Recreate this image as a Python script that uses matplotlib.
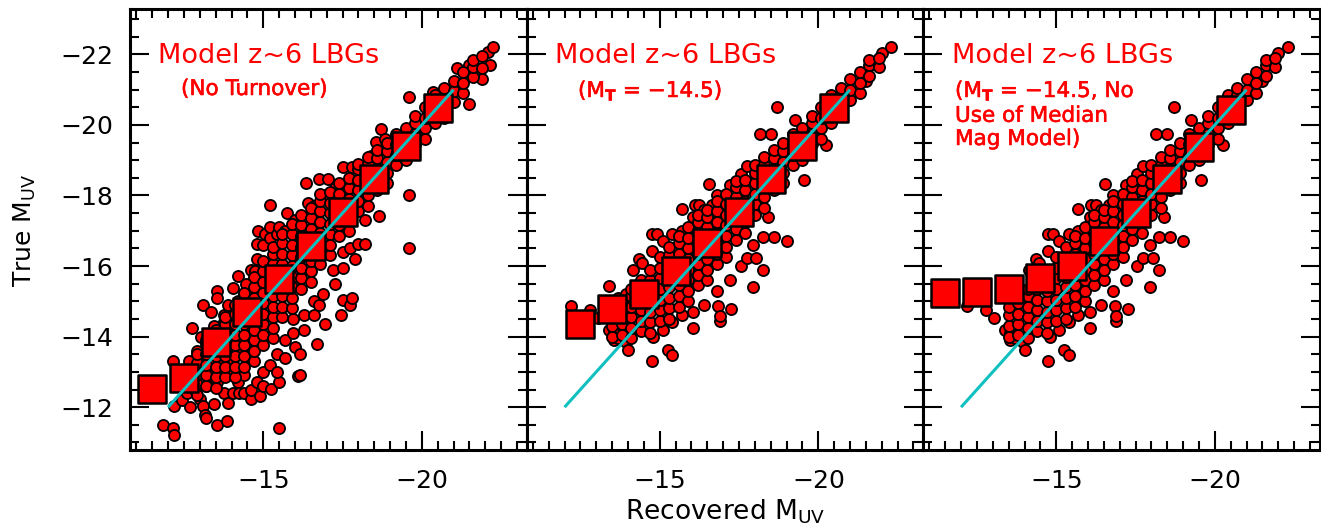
import matplotlib
matplotlib.use("Agg")
import matplotlib.pyplot as plt
import matplotlib.patheffects as pe
from matplotlib.ticker import MultipleLocator, FixedLocator

# ---------------- data ----------------
# binned medians (big squares)
p1_bin_x = [-11.5, -12.5, -13.5, -14.5, -15.5, -16.5, -17.5, -18.5, -19.5, -20.5]
p1_bin_y = [-12.52, -12.83, -13.84, -14.71, -15.64, -16.57, -17.52, -18.46, -19.40, -20.49]

p2_bin_x = [-12.5, -13.5, -14.5, -15.5, -16.5, -17.5, -18.5, -19.5, -20.5]
p2_bin_y = [-14.35, -14.79, -15.22, -15.87, -16.65, -17.53, -18.46, -19.40, -20.49]

p3_bin_x = [-11.5, -12.5, -13.5, -14.5, -15.5, -16.5, -17.5, -18.5, -19.5, -20.5]
p3_bin_y = [-15.23, -15.27, -15.36, -15.66, -16.01, -16.70, -17.50, -18.46, -19.37, -20.43]

# one-to-one reference line
line_x = [-12.0, -21.0]
line_y = [-12.0, -21.0]

# individual model galaxies, panel 1 (no turnover): (recovered, true) -- scattered ones
p1_points = [
    (-11.85,-11.50),(-12.15,-11.41),(-12.2,-12.03),(-12.15,-13.32),(-12.2,-11.20),
    (-12.4,-12.6),(-12.45,-12.2),(-12.65,-13.32),(-12.6,-12.4),(-12.7,-12.0),
    (-12.75,-14.23),(-12.9,-12.9),(-12.9,-13.6),(-12.85,-12.5),
    (-13.0,-12.22),(-13.0,-13.2),(-13.05,-14.0),(-13.1,-12.03),(-13.1,-14.90),(-13.1,-13.5),
    (-13.15,-11.79),(-13.2,-11.69),(-13.2,-12.6),(-13.2,-13.9),
    (-13.35,-14.71),(-13.35,-12.9),(-13.3,-13.3),(-13.45,-12.08),(-13.45,-14.3),
    (-13.55,-11.50),(-13.55,-15.28),(-13.55,-15.09),(-13.55,-12.7),(-13.6,-13.0),(-13.6,-13.6),(-13.6,-14.0),
    (-13.75,-14.61),(-13.75,-12.41),(-13.75,-13.3),(-13.75,-12.9),(-13.75,-14.4),(-13.8,-14.0),
    (-13.85,-11.60),(-13.9,-12.12),(-13.9,-13.1),(-13.9,-13.7),(-13.9,-14.9),
    (-14.05,-15.38),(-14.05,-13.37),(-14.05,-12.4),(-14.05,-12.9),(-14.05,-14.2),(-14.05,-14.6),(-14.05,-13.7),
    (-14.2,-15.71),(-14.2,-12.7),(-14.2,-13.0),(-14.2,-13.5),(-14.2,-14.0),(-14.25,-14.4),(-14.2,-15.0),(-14.25,-12.4),
    (-14.4,-15.19),(-14.4,-12.41),(-14.4,-12.9),(-14.45,-15.5),
    (-14.6,-12.22),(-14.6,-12.5),(-14.6,-15.9),
    (-14.8,-16.62),(-14.75,-15.85),(-14.85,-17.0),(-14.8,-15.47),(-14.9,-12.32),(-14.8,-12.7),(-14.8,-16.2),
    (-15.0,-12.6),(-15.0,-13.0),(-15.05,-16.9),(-15.0,-16.6),
    (-15.2,-17.72),(-15.2,-17.12),(-15.25,-12.51),(-15.2,-13.2),(-15.2,-16.8),
    (-15.5,-12.70),(-15.5,-11.41),(-15.45,-13.0),(-15.45,-13.5),(-15.45,-16.9),(-15.5,-17.1),
    (-15.75,-17.51),(-15.7,-13.4),(-15.7,-13.9),(-15.7,-17.0),
    (-16.0,-13.70),(-16.1,-12.89),(-15.95,-14.1),(-15.95,-14.5),(-16.0,-17.3),(-16.15,-12.91),(-16.15,-13.5),
    (-16.35,-18.34),(-16.3,-14.2),(-16.3,-14.6),(-16.4,-17.8),
    (-16.6,-14.6),(-16.6,-15.0),(-16.6,-17.7),
    (-16.75,-18.48),(-16.7,-13.80),(-16.75,-14.9),
    (-16.95,-14.37),(-16.9,-15.2),(-16.95,-18.0),(-17.05,-18.48),
    (-17.25,-15.5),(-17.2,-15.9),(-17.25,-18.2),
    (-17.5,-18.82),(-17.5,-15.95),(-17.5,-15.04),(-17.45,-14.61),(-17.5,-16.4),
    (-17.75,-14.90),(-17.8,-15.09),(-17.75,-16.5),(-17.9,-16.19),(-17.8,-18.82),
    (-18.0,-16.62),(-18.2,-16.62),(-18.2,-17.3),
    (-18.4,-19.11),(-18.55,-19.51),(-18.65,-17.42),(-18.7,-19.89),(-18.85,-19.60),
    (-19.6,-20.78),(-19.6,-18.00),(-19.6,-16.50),
    (-20.35,-20.92),(-21.1,-21.61),(-21.5,-20.59),(-21.5,-21.69),
    (-21.9,-21.31),(-22.1,-22.07),(-22.15,-21.69),(-22.25,-22.21),
]

# panel 1 dense core: columns of (recovered, [true values])
p1_core = [
    (-12.9, [-12.35, -12.65, -12.95, -13.25, -13.5]),
    (-13.2, [-12.6, -12.9, -13.2, -13.5, -13.8]),
    (-13.5, [-12.55, -12.85, -13.15, -13.45, -13.75, -14.05, -14.2]),
    (-13.8, [-12.85, -13.15, -13.45, -13.75, -14.05, -14.35, -14.55]),
    (-14.1, [-12.85, -13.15, -13.45, -13.75, -14.05, -14.35, -14.65, -14.9]),
    (-14.4, [-13.15, -13.45, -13.75, -14.05, -14.35, -14.65, -14.95, -15.25]),
    (-14.7, [-13.3, -13.6, -13.9, -14.2, -14.5, -14.8, -15.1, -15.4, -15.7]),
    (-15.0, [-13.75, -14.05, -14.35, -14.65, -14.95, -15.25, -15.55, -15.85, -16.15]),
    (-15.3, [-13.95, -14.25, -14.55, -14.85, -15.15, -15.45, -15.75, -16.05, -16.35, -16.55]),
    (-15.6, [-14.55, -14.85, -15.15, -15.45, -15.75, -16.05, -16.35, -16.65, -16.9]),
    (-15.9, [-14.8, -15.1, -15.4, -15.7, -16.0, -16.3, -16.6, -16.9, -17.2]),
    (-16.2, [-15.35, -15.65, -15.95, -16.25, -16.55, -16.85, -17.15, -17.45]),
    (-16.5, [-15.55, -15.85, -16.15, -16.45, -16.75, -17.05, -17.35, -17.65]),
    (-16.8, [-16.05, -16.35, -16.65, -16.95, -17.25, -17.55, -17.85, -18.05]),
    (-17.1, [-16.3, -16.6, -16.9, -17.2, -17.5, -17.8, -18.1]),
    (-17.4, [-16.85, -17.15, -17.45, -17.75, -18.05, -18.35]),
    (-17.7, [-17.0, -17.3, -17.6, -17.9, -18.2, -18.5]),
    (-18.0, [-17.55, -17.85, -18.15, -18.45, -18.75, -18.9]),
    (-18.3, [-17.7, -18.0, -18.3, -18.6, -18.9, -19.1]),
    (-18.6, [-18.15, -18.45, -18.75, -19.05, -19.3]),
    (-18.9, [-18.35, -18.65, -18.95, -19.25, -19.5]),
    (-19.2, [-18.85, -19.15, -19.45, -19.75]),
    (-19.5, [-19.0, -19.3, -19.6, -19.9]),
    (-19.8, [-19.45, -19.75, -20.05, -20.25]),
    (-20.1, [-19.6, -19.9, -20.2, -20.5]),
    (-20.4, [-20.05, -20.35, -20.65, -20.85]),
    (-20.7, [-20.2, -20.5, -20.8, -21.05]),
    (-21.0, [-20.65, -20.95, -21.25]),
    (-21.3, [-20.9, -21.2, -21.5]),
    (-21.6, [-21.35, -21.65, -21.85]),
    (-21.9, [-21.6, -21.95]),
]

# panels 2 and 3 (M_T = -14.5): scattered ones
p23_points = [
    (-12.2,-14.86),(-12.8,-14.76),(-13.05,-14.52),(-13.4,-15.44),(-13.4,-14.2),
    (-13.55,-14.09),(-13.55,-13.9),(-13.7,-13.95),(-13.7,-15.1),
    (-13.95,-13.85),(-13.95,-15.2),(-14.15,-15.9),(-14.0,-13.61),
    (-14.35,-16.2),(-14.45,-16.1),
    (-14.75,-13.32),(-14.75,-16.92),(-14.75,-16.44),(-14.8,-14.0),
    (-14.9,-16.92),(-15.1,-14.2),(-15.1,-16.7),(-15.25,-13.61),
    (-15.4,-13.48),(-15.4,-14.4),(-15.4,-16.9),
    (-15.7,-17.62),(-15.7,-14.6),(-15.7,-17.0),
    (-16.05,-14.24),(-16.05,-14.7),(-16.05,-17.4),
    (-16.1,-17.74),(-16.25,-17.74),(-16.4,-14.9),(-16.4,-17.6),
    (-16.55,-18.33),(-16.65,-17.74),(-16.85,-14.88),(-16.9,-14.43),(-16.9,-14.57),
    (-16.8,-15.3),(-16.8,-18.0),
    (-17.25,-14.78),(-17.2,-15.6),(-17.2,-18.3),
    (-17.55,-18.6),(-17.55,-16.0),(-17.75,-18.84),(-17.75,-16.23),
    (-17.95,-15.42),(-17.95,-16.6),
    (-18.05,-16.22),(-18.15,-19.75),
    (-18.25,-15.90),(-18.25,-16.83),(-18.4,-17.40),(-18.5,-19.75),
    (-18.6,-16.83),(-18.7,-20.51),
    (-19.0,-16.71),(-19.25,-20.14),(-19.55,-18.45),(-19.85,-20.14),
    (-20.25,-19.42),(-21.5,-21.24),(-21.75,-21.72),
    (-22.0,-22.03),(-22.3,-22.22),
]

# panels 2 and 3 dense core
p23_core = [
    (-13.5, [-14.0, -14.3, -14.6, -14.85]),
    (-13.8, [-14.05, -14.35, -14.65, -14.95]),
    (-14.1, [-13.95, -14.25, -14.55, -14.85, -15.15, -15.35]),
    (-14.4, [-14.15, -14.45, -14.75, -15.05, -15.35, -15.6]),
    (-14.7, [-14.1, -14.4, -14.7, -15.0, -15.3, -15.6, -15.9]),
    (-15.0, [-14.45, -14.75, -15.05, -15.35, -15.65, -15.95, -16.25]),
    (-15.3, [-14.5, -14.8, -15.1, -15.4, -15.7, -16.0, -16.3, -16.55]),
    (-15.6, [-14.85, -15.15, -15.45, -15.75, -16.05, -16.35, -16.65, -16.85]),
    (-15.9, [-15.0, -15.3, -15.6, -15.9, -16.2, -16.5, -16.8, -17.1]),
    (-16.2, [-15.45, -15.75, -16.05, -16.35, -16.65, -16.95, -17.25, -17.45]),
    (-16.5, [-15.6, -15.9, -16.2, -16.5, -16.8, -17.1, -17.4, -17.6]),
    (-16.8, [-16.05, -16.35, -16.65, -16.95, -17.25, -17.55, -17.85]),
    (-17.1, [-16.25, -16.55, -16.85, -17.15, -17.45, -17.75, -18.05]),
    (-17.4, [-16.75, -17.05, -17.35, -17.65, -17.95, -18.25, -18.4]),
    (-17.7, [-16.95, -17.25, -17.55, -17.85, -18.15, -18.45]),
    (-18.0, [-17.45, -17.75, -18.05, -18.35, -18.65, -18.85]),
    (-18.3, [-17.65, -17.95, -18.25, -18.55, -18.85, -19.1]),
    (-18.6, [-18.15, -18.45, -18.75, -19.05, -19.3]),
    (-18.9, [-18.35, -18.65, -18.95, -19.25, -19.5]),
    (-19.2, [-18.85, -19.15, -19.45, -19.75]),
    (-19.5, [-19.0, -19.3, -19.6, -19.9]),
    (-19.8, [-19.45, -19.75, -20.05, -20.25]),
    (-20.1, [-19.6, -19.9, -20.2, -20.5]),
    (-20.4, [-20.05, -20.35, -20.65, -20.85]),
    (-20.7, [-20.25, -20.55, -20.85, -21.05]),
    (-21.0, [-20.7, -21.0, -21.3]),
    (-21.3, [-20.9, -21.2, -21.5]),
    (-21.6, [-21.4, -21.7, -21.85]),
    (-21.9, [-21.65, -21.9]),
]

panel_titles = ["Model z~6 LBGs", "Model z~6 LBGs", "Model z~6 LBGs"]
panel_notes = ["(No Turnover)",
               "(M$_\\mathbf{T}$ = \u221214.5)",
               "(M$_\\mathbf{T}$ = \u221214.5, No\nUse of Median\nMag Model)"]
x_ticks = [-15, -20]
y_ticks = [-22, -20, -18, -16, -14, -12]
x_label = "Recovered M$_{\\mathrm{UV}}$"
y_label = "True M$_{\\mathrm{UV}}$"

# ---------------- figure ----------------
plt.rcParams['font.family'] = ['DejaVu Sans']
plt.rcParams['mathtext.fontset'] = 'dejavusans'
plt.rcParams['axes.unicode_minus'] = True

fig = plt.figure(figsize=(13.21, 5.29), dpi=100)
L, B, W, H = 130/1321, 1 - 449.5/529, 396.5/1321, 441/529

panels = [
    (p1_points, p1_core, p1_bin_x, p1_bin_y),
    (p23_points, p23_core, p2_bin_x, p2_bin_y),
    (p23_points, p23_core, p3_bin_x, p3_bin_y),
]
note_pos = [(181, 90), (578, 90), (955, 90)]
title_pos = [(158, 56), (555, 56), (952, 56)]

red = '#FF0000'
cyan = '#10C0C0'

for i, (pts, core, bx, by) in enumerate(panels):
    ax = fig.add_axes([L + i*W, B, W, H])
    xs = [p[0] for p in pts]
    ys = [p[1] for p in pts]
    for cx, cys in core:
        for cy in cys:
            xs.append(cx)
            ys.append(cy)
    ax.scatter(xs, ys, s=64, c=red, edgecolors='black', linewidths=1.3, zorder=2)
    ax.scatter(bx, by, s=400, marker='s', c=red, edgecolors='black', linewidths=1.8, zorder=3)
    ax.plot(line_x, line_y, color=cyan, lw=2.2, zorder=4, solid_capstyle='butt')
    ax.set_xlim(-10.8, -23.3)
    ax.set_ylim(-10.8, -23.3)
    ax.xaxis.set_major_locator(FixedLocator(x_ticks))
    ax.xaxis.set_minor_locator(MultipleLocator(0.5))
    ax.yaxis.set_major_locator(FixedLocator(y_ticks))
    ax.yaxis.set_minor_locator(MultipleLocator(0.5))
    ax.tick_params(which='both', direction='in', top=True, right=True, width=1.5, color='black')
    ax.tick_params(which='major', length=13.5, labelsize=18, pad=12)
    ax.tick_params(axis='x', which='major', pad=14)
    ax.tick_params(which='minor', length=6.7)
    if i > 0:
        ax.tick_params(labelleft=False)
    for sp in ax.spines.values():
        sp.set_linewidth(2.2)
    tx, ty = title_pos[i]
    fig.text(tx/1321, 1 - ty/529, panel_titles[i], color=red, fontsize=19.5,
             ha='left', va='center')
    nx, ny = note_pos[i]
    t = fig.text(nx/1321, 1 - (ny - 11)/529, panel_notes[i], color=red, fontsize=15.5,
                 ha='left', va='top', linespacing=1.2)
    t.set_path_effects([pe.withStroke(linewidth=0.4, foreground=red)])

fig.text(725/1321, 1 - 512/529, x_label, fontsize=19, ha='center', va='center')
fig.text(25/1321, 1 - 230/529, y_label, fontsize=18, ha='center', va='center', rotation=90)

fig.savefig('out.png', dpi=100)
